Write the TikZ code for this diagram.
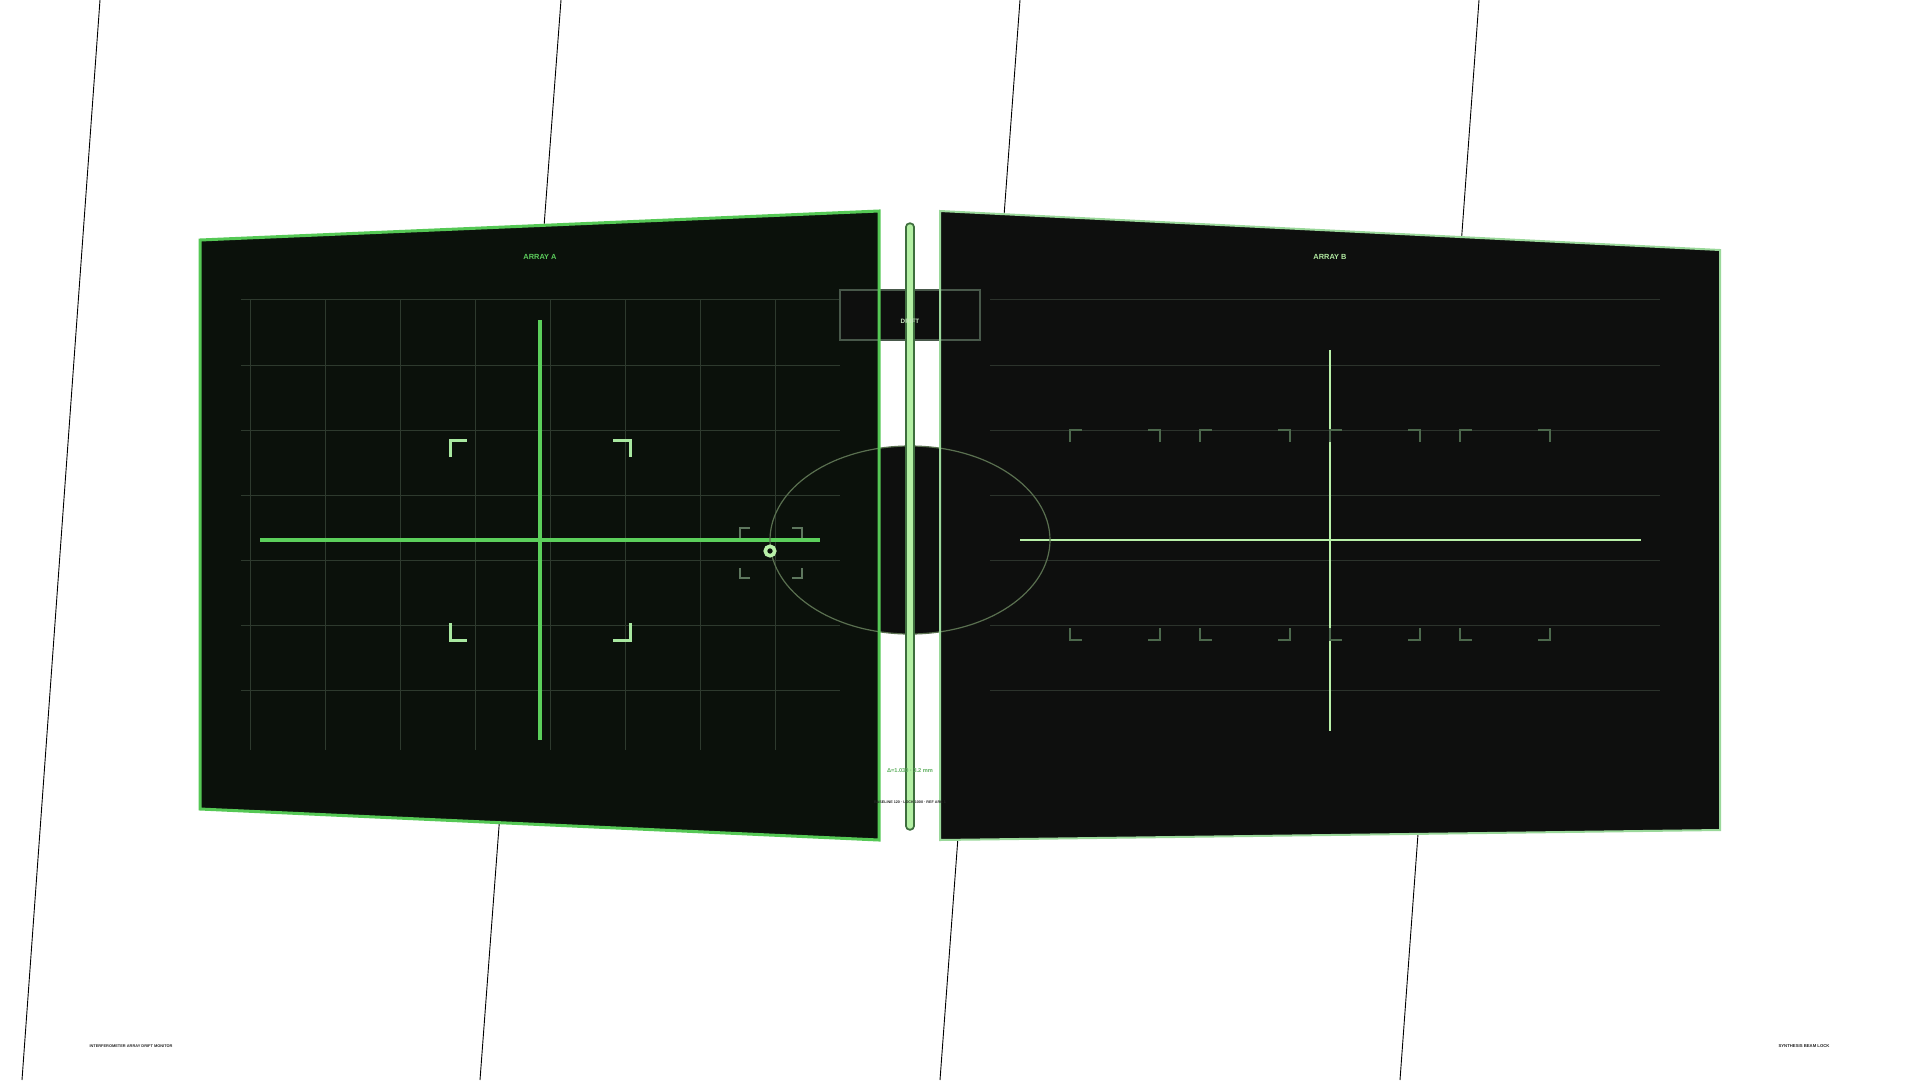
\documentclass[tikz,border=0pt]{standalone}
\usepackage{graphicx}
\usepackage{fontspec}
\setmainfont{Liberation Sans}
\definecolor{panA}{HTML}{0B110B}
\definecolor{panB}{HTML}{0E0F0E}
\definecolor{brdA}{HTML}{55C855}
\definecolor{brdB}{HTML}{9AD89A}
\definecolor{gridA}{HTML}{2E3A2E}
\definecolor{gridB}{HTML}{2C332C}
\definecolor{crossA}{HTML}{5CD05C}
\definecolor{crossB}{HTML}{B8F0A8}
\definecolor{brkA}{HTML}{A8E8A0}
\definecolor{brkB}{HTML}{4C684C}
\definecolor{ellc}{HTML}{5A7050}
\definecolor{boxc}{HTML}{48584A}
\definecolor{rodout}{HTML}{3E6E3E}
\definecolor{rodin}{HTML}{B4F0A4}
\definecolor{txtA}{HTML}{5CCC5C}
\definecolor{txtB}{HTML}{B0E8A0}
\definecolor{txtD}{HTML}{C8E8C0}
\definecolor{txtS}{HTML}{60B060}
\begin{document}
\begin{tikzpicture}[x=1pt,y=-1pt,
  bgline/.style={black,line width=0.9},
  gridlineA/.style={gridA,line width=1},
  gridlineB/.style={gridB,line width=1},
  crosshairA/.style={crossA,line width=3.2},
  crosshairB/.style={crossB,line width=2.6},
  bracketA/.style={brkA,line width=3},
  bracketB/.style={brkB,line width=1.6},
  tgtbracket/.style={brkB!90!white,line width=1.8},
  lbl/.style={inner sep=0pt,font=\bfseries}]
\useasboundingbox (0,0) rectangle (1920,1080);
\fill[white] (0,0) rectangle (1920,1080);
% background slanted lines
\draw[bgline] (100,0) -- (22,1080);
\draw[bgline] (561,0) -- (480,1080);
\draw[bgline] (1020,0) -- (940,1080);
\draw[bgline] (1479,0) -- (1400,1080);
% ellipse fill
\coordinate (ec) at (910,540);
\fill[panB] (ec) ellipse [x radius=140pt, y radius=94pt];
% panels
\coordinate (A1) at (200,240); \coordinate (A2) at (879,211);
\coordinate (A3) at (879,840); \coordinate (A4) at (200,809);
\coordinate (B1) at (940,211); \coordinate (B2) at (1720,250);
\coordinate (B3) at (1720,830); \coordinate (B4) at (940,840);
\fill[panA] (A1)--(A2)--(A3)--(A4)--cycle;
\fill[panB] (B1)--(B2)--(B3)--(B4)--cycle;
% grid A
\foreach \x in {250,325,400,475,550,625,700,775} \draw[gridlineA] (\x,299)--(\x,750);
\foreach \y in {299,365,430,495,560,625,690} \draw[gridlineA] (241,\y)--(840,\y);
% grid B
\foreach \y in {299,365,430,495,560,625,690} \draw[gridlineB] (990,\y)--(1660,\y);
% crosshairs
\draw[crosshairA] (260,540)--(820,540);
\draw[crosshairA] (540,320)--(540,740);
\draw[crosshairB] (1020,540)--(1641,540);
\draw[crosshairB] (1330,350)--(1330,731);
% brackets A
\draw[bracketA] (450,457)--(450,440)--(467,440);
\draw[bracketA] (613,440)--(630,440)--(630,457);
\draw[bracketA] (450,623)--(450,640)--(467,640);
\draw[bracketA] (613,640)--(630,640)--(630,623);
% brackets B
\foreach \a/\b in {1070/1160,1200/1290,1330/1420,1460/1550}{
  \draw[bracketB] (\a,442)--(\a,430)--(\a+12,430);
  \draw[bracketB] (\b-12,430)--(\b,430)--(\b,442);
  \draw[bracketB] (\a,628)--(\a,640)--(\a+12,640);
  \draw[bracketB] (\b-12,640)--(\b,640)--(\b,628);
}
% ellipse outline
\draw[ellc,line width=1.2] (ec) ellipse [x radius=140pt, y radius=94pt];
% target
\draw[tgtbracket] (740,538)--(740,528)--(750,528);
\draw[tgtbracket] (792,528)--(802,528)--(802,538);
\draw[tgtbracket] (740,568)--(740,578)--(750,578);
\draw[tgtbracket] (792,578)--(802,578)--(802,568);
\node[circle,draw=crossB,fill=panA,line width=3.6,minimum size=9.5pt,inner sep=0pt] (tgt) at (770,551) {};
% drift box
\node[draw=boxc,fill=panB,line width=1.2,minimum width=140pt,minimum height=50pt,inner sep=0pt] (driftbox) at (910,315) {};
% panel borders
\draw[brdA,line width=3,line join=miter] (A1)--(A2)--(A3)--(A4)--cycle;
\draw[brdB,line width=2,line join=miter] (B1)--(B2)--(B3)--(B4)--cycle;
% rod
\coordinate (rt) at (910,227); \coordinate (rb) at (910,826);
\draw[rodout,line width=9.5,line cap=round] (rt)--(rb);
\draw[rodin,line width=5.5,line cap=round] (rt)--(rb);
% texts
\node[lbl,text=txtA,font=\bfseries\fontsize{7.4}{9}\selectfont] (tA) at (540,257) {ARRAY A};
\node[lbl,text=txtB,font=\bfseries\fontsize{7.4}{9}\selectfont] (tB) at (1330,257) {ARRAY B};
\node[lbl,text=txtD,font=\bfseries\fontsize{6.3}{8}\selectfont] (tD) at (910,321) {DRIFT};
\node[lbl,text=txtS] (ts1) at (910,771) {\resizebox{46pt}{!}{\fontsize{6}{7}\selectfont Δ=1.030 · 3.2 mm}};
\node[lbl,text=black!85] (ts2) at (910,802) {\resizebox{72pt}{!}{\bfseries\fontsize{6}{7}\selectfont BASELINE 120 · LOCK 1000 · REF ARC 1}};
\node[lbl,text=black!85] (tbl) at (131,1046) {\resizebox{83pt}{!}{\bfseries\fontsize{6}{7}\selectfont INTERFEROMETER ARRAY DRIFT MONITOR}};
\node[lbl,text=black!85] (tbr) at (1804,1046) {\resizebox{51pt}{!}{\bfseries\fontsize{6}{7}\selectfont SYNTHESIS BEAM LOCK}};
\end{tikzpicture}
\end{document}
